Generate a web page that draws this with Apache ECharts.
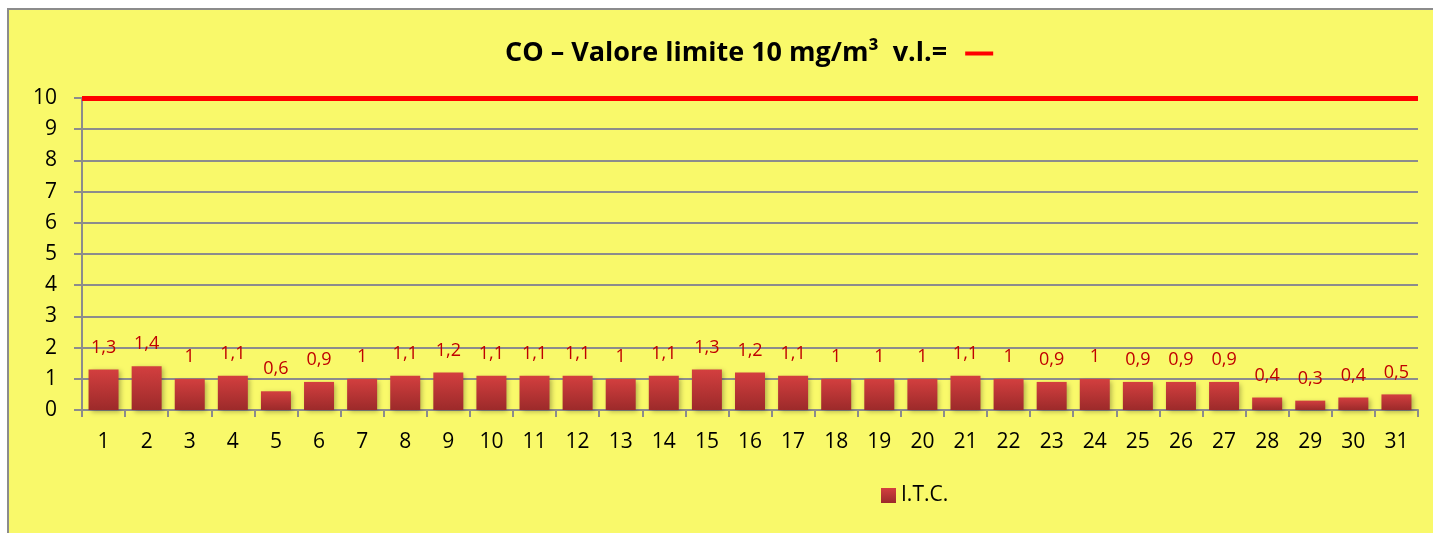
<!DOCTYPE html>
<html><head><meta charset="utf-8">
<script src="https://cdn.jsdelivr.net/npm/echarts@6/dist/echarts.min.js"></script>
<style>html,body{margin:0;padding:0;background:#fff}#c{width:1433px;height:533px}</style>
</head><body><div id="c"></div>
<script>
const days = ['1','2','3','4','5','6','7','8','9','10','11','12','13','14','15','16','17','18','19','20','21','22','23','24','25','26','27','28','29','30','31'];
const itc = [1.3,1.4,1,1.1,0.6,0.9,1,1.1,1.2,1.1,1.1,1.1,1,1.1,1.3,1.2,1.1,1,1,1,1.1,1,0.9,1,0.9,0.9,0.9,0.4,0.3,0.4,0.5];
const limitValue = 10;
const yTicks = [0,1,2,3,4,5,6,7,8,9,10];
const seriesName = 'I.T.C.';
const titleText = 'CO – Valore limite 10 mg/m³  v.l.=';

const font = '"Open Sans","Noto Sans",sans-serif';
const chart = echarts.init(document.getElementById('c'));
chart.setOption({
  backgroundColor: '#ffffff',
  animation: false,
  graphic: [{
    type: 'rect', z: -10, silent: true,
    shape: {x: 8, y: 9, width: 1440, height: 540},
    style: {fill: '#f9f96a', stroke: '#8c8c8c', lineWidth: 2}
  }],
  title: {
    left: 500, top: 35,
    text: '{t|' + titleText + '}{s| }{d| }',
    textStyle: {
      rich: {
        t: {fontFamily: font, fontWeight: 'bold', fontSize: 27, color: '#000', verticalAlign: 'middle'},
        s: {width: 18, fontSize: 4},
        d: {backgroundColor: '#ff0000', width: 28, height: 4, fontSize: 4, verticalAlign: 'middle', padding: [0,0,0,0]}
      }
    }
  },
  legend: {
    bottom: 22, left: 876,
    itemWidth: 15, itemHeight: 15, itemGap: 5,
    textStyle: {fontFamily: font, fontSize: 21, color: '#000'},
    data: [{name: seriesName, icon: 'rect'}]
  },
  grid: {left: 82, right: 15, top: 98, bottom: 123, containLabel: false},
  xAxis: {
    type: 'category', data: days, boundaryGap: true,
    axisLine: {lineStyle: {color: '#8c8c8c', width: 2}},
    axisTick: {show: true, length: 7, alignWithLabel: false, lineStyle: {color: '#8c8c8c', width: 2}},
    axisLabel: {fontFamily: font, fontSize: 21, color: '#000', margin: 22}
  },
  yAxis: {
    type: 'value', min: yTicks[0], max: yTicks[yTicks.length-1], interval: 1,
    axisLine: {show: true, lineStyle: {color: '#8c8c8c', width: 2}},
    axisTick: {show: true, length: 8, lineStyle: {color: '#8c8c8c', width: 2}},
    splitLine: {show: true, lineStyle: {color: '#8c8c8c', width: 2}},
    axisLabel: {fontFamily: font, fontSize: 21, color: '#000', margin: 25}
  },
  series: [{
    name: seriesName, type: 'bar', data: itc, barWidth: 30,
    itemStyle: {
      color: new echarts.graphic.LinearGradient(0,0,0,1,[{offset:0,color:'#d33f3f'},{offset:1,color:'#9c2a2a'}]),
      shadowBlur: 5, shadowOffsetX: 2, shadowOffsetY: 2, shadowColor: 'rgba(0,0,0,0.3)'
    },
    label: {
      show: true, position: 'top', distance: 13,
      fontFamily: font, fontSize: 18, color: '#c00000',
      formatter: p => String(p.value).replace('.', ',')
    },
    markLine: {
      silent: true, symbol: 'none', label: {show: false},
      lineStyle: {color: '#ff0000', width: 5, type: 'solid'},
      data: [{yAxis: limitValue}]
    }
  }]
});
</script></body></html>
